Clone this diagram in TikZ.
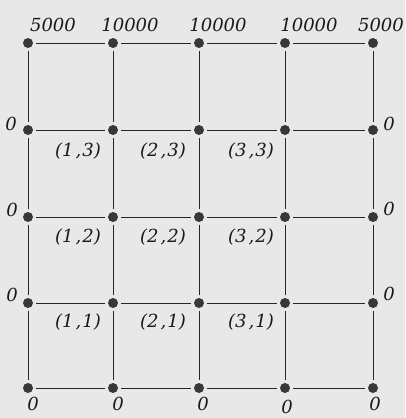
\documentclass[tikz,border=0pt]{standalone}
\usepackage{fontspec}
\newfontfamily\labfont{DejaVu Serif}
\begin{document}
\begin{tikzpicture}[x=1pt,y=-1pt,
  dot/.style={circle,fill=black!78,inner sep=0pt,minimum size=10pt,outer sep=3pt},
  lab/.style={font=\labfont\fontsize{18}{21}\selectfont\itshape,inner sep=0pt,text=black!90},
  gridline/.style={line width=0.9pt,black!85}]
\fill[black!9] (0,0) rectangle (405,418);
\useasboundingbox (0,0) rectangle (405,418);
% nodes: n<col><row>, row 0 = top
\foreach \c/\x in {0/28,1/113,2/199,3/285,4/373}{
  \foreach \r/\y in {0/43,1/130,2/217,3/303,4/388}{
    \node[dot] (n\c\r) at (\x,\y) {};
  }
}
% horizontal lines
\foreach \r in {0,...,4}{
  \draw[gridline] (n0\r) -- (n1\r);
  \draw[gridline] (n1\r) -- (n2\r);
  \draw[gridline] (n2\r) -- (n3\r);
  \draw[gridline] (n3\r) -- (n4\r);
}
% vertical lines
\foreach \c in {0,...,4}{
  \draw[gridline] (n\c0) -- (n\c1);
  \draw[gridline] (n\c1) -- (n\c2);
  \draw[gridline] (n\c2) -- (n\c3);
  \draw[gridline] (n\c3) -- (n\c4);
}
% top labels
\node[lab] (t0) at (53,25) {5000};
\node[lab] (t1) at (130,25) {10000};
\node[lab] (t2) at (218,25) {10000};
\node[lab] (t3) at (309,25) {10000};
\node[lab] (t4) at (381,25) {5000};
% left labels
\node[lab] (l1) at (11,124) {0};
\node[lab] (l2) at (12,210) {0};
\node[lab] (l3) at (12,295) {0};
% right labels
\node[lab] (r1) at (389,124) {0};
\node[lab] (r2) at (389,209) {0};
\node[lab] (r3) at (389,294) {0};
% bottom labels
\node[lab] (b0) at (33,404) {0};
\node[lab] (b1) at (118,404) {0};
\node[lab] (b2) at (203,404) {0};
\node[lab] (b3) at (287,406.5) {0};
\node[lab] (b4) at (375,404) {0};
% cell labels
\foreach \i/\x in {1/78,2/163,3/251}{
  \foreach \j/\y in {3/151,2/237,1/322}{
    \node[lab] (c\i\j) at (\x,\y) {(\i\kern2pt,\kern1pt\j)};
  }
}
\end{tikzpicture}
\end{document}
